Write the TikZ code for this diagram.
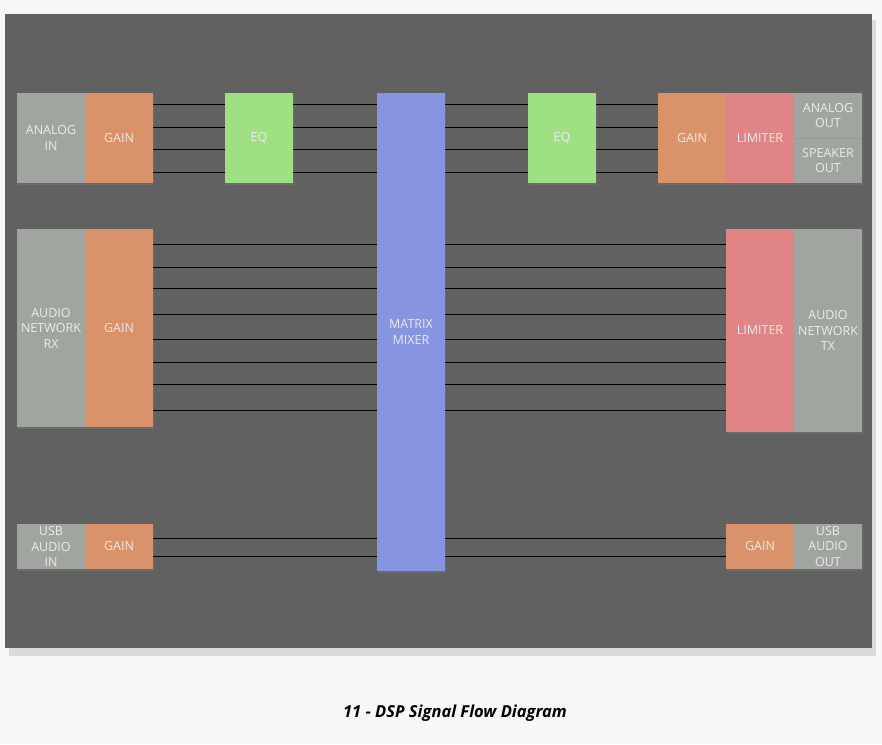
\documentclass[tikz,border=0pt]{standalone}
\usepackage{fontspec}
\setmainfont{Open Sans}
\usetikzlibrary{positioning,shadows}
\definecolor{panel}{HTML}{616161}
\definecolor{iobox}{HTML}{A1A59F}
\definecolor{gainc}{HTML}{D9926A}
\definecolor{eqc}{HTML}{A0E085}
\definecolor{mixc}{HTML}{8794E2}
\definecolor{limc}{HTML}{E08586}
\tikzset{
  blk/.style={draw=none, inner sep=0pt, outer sep=0pt, anchor=north west,
    minimum width=68pt, text=white!92!black, align=center,
    font=\fontsize{12.5}{15.5}\selectfont, drop shadow={opacity=0.35,shadow xshift=1pt,shadow yshift=-2pt}},
  sig/.style={line width=1pt, black}
}
\begin{document}
\begin{tikzpicture}[x=1pt,y=-1pt]
\useasboundingbox (0,0) rectangle (882,744);
\fill[white!97!black] (0,0) rectangle (882,744);
\fill[black!25, opacity=0.5] (9,20) rectangle (876,656);
\fill[panel] (5,14) rectangle (872,648);
%% analog path
\node[blk, fill=iobox, minimum height=90pt] (ain) at (17,93) {ANALOG\\IN};
\node[blk, fill=gainc, minimum height=90pt, right=0pt of ain.north east, anchor=north west] (again) {GAIN};
\node[blk, fill=eqc, minimum height=90pt] (eqin) at (225,93) {EQ};
\node[blk, fill=mixc, minimum height=478pt] (mix) at (377,93) {MATRIX\\MIXER};
\node[blk, fill=eqc, minimum height=90pt] (eqout) at (528,93) {EQ};
\node[blk, fill=gainc, minimum height=90pt] (ogain) at (658,93) {GAIN};
\node[blk, fill=limc, minimum height=90pt, right=0pt of ogain.north east, anchor=north west] (olim) {LIMITER};
\node[blk, fill=iobox, minimum height=45pt, right=0pt of olim.north east, anchor=north west] (aout) {ANALOG\\OUT};
\node[blk, fill=iobox, minimum height=45pt, below=0pt of aout.south west, anchor=north west] (spkout) {SPEAKER\\OUT};
\draw[black!40, line width=0.6pt] (aout.south west) -- (aout.south east);
\foreach \y in {104,127,149,172}{
  \draw[sig] (again.east |- 0,\y) -- (eqin.west |- 0,\y);
  \draw[sig] (eqin.east |- 0,\y) -- (mix.west |- 0,\y);
  \draw[sig] (mix.east |- 0,\y) -- (eqout.west |- 0,\y);
  \draw[sig] (eqout.east |- 0,\y) -- (ogain.west |- 0,\y);
}
%% network path
\node[blk, fill=iobox, minimum height=198pt] (netrx) at (17,229) {AUDIO\\NETWORK\\RX};
\node[blk, fill=gainc, minimum height=198pt, right=0pt of netrx.north east, anchor=north west] (ngain) {GAIN};
\node[blk, fill=limc, minimum height=203pt] (nlim) at (726,229) {LIMITER};
\node[blk, fill=iobox, minimum height=203pt, right=0pt of nlim.north east, anchor=north west] (nettx) {AUDIO\\NETWORK\\TX};
\foreach \y in {244,267,288,314,339,362,384,410}{
  \draw[sig] (ngain.east |- 0,\y) -- (mix.west |- 0,\y);
  \draw[sig] (mix.east |- 0,\y) -- (nlim.west |- 0,\y);
}
%% usb path
\node[blk, fill=iobox, minimum height=45pt] (usbin) at (17,524) {USB\\AUDIO\\IN};
\node[blk, fill=gainc, minimum height=45pt, right=0pt of usbin.north east, anchor=north west] (ugain) {GAIN};
\node[blk, fill=gainc, minimum height=45pt] (uogain) at (726,524) {GAIN};
\node[blk, fill=iobox, minimum height=45pt, right=0pt of uogain.north east, anchor=north west] (usbout) {USB\\AUDIO\\OUT};
\foreach \y in {538,556}{
  \draw[sig] (ugain.east |- 0,\y) -- (mix.west |- 0,\y);
  \draw[sig] (mix.east |- 0,\y) -- (uogain.west |- 0,\y);
}
\node[font=\fontsize{16.5}{19}\selectfont\bfseries\itshape] (cap) at (455,713) {11 - DSP Signal Flow Diagram};
\end{tikzpicture}
\end{document}
